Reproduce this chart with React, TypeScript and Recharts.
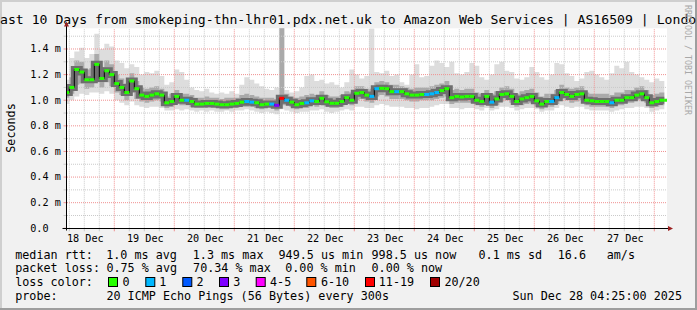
import React from 'react';
import { ComposedChart, Area, Line, Scatter, XAxis, YAxis, ReferenceLine, CartesianGrid } from 'recharts';

// ---- data (2-hour steps, hours counted from 18 Dec 00:00) ----
const STEP_START_HOUR = 4;
const STEP_HOURS = 2;

const medianRtt = [
  1.06, 1.10, 1.24, 1.22, 1.16, 1.16, 1.28, 1.17, 1.23, 1.20,
  1.13, 1.10, 1.06, 1.15, 1.09, 1.04, 1.03, 1.04, 1.05, 1.04,
  0.98, 0.99, 1.03, 1.00, 1.00, 0.99, 0.97, 0.97, 0.975, 0.975,
  0.97, 0.965, 0.965, 0.97, 0.975, 0.985, 0.99, 0.985, 0.98, 0.965,
  0.97, 0.97, 0.96, 1.015, 1.00, 0.985, 0.965, 0.975, 0.98, 0.995,
  0.99, 1.015, 0.988, 0.976, 0.976, 0.99, 1.02, 1.00, 1.054, 1.06,
  1.04, 1.03, 1.09, 1.093, 1.09, 1.067, 1.067, 1.067, 1.05, 1.04,
  1.04, 1.045, 1.045, 1.05, 1.06, 1.075, 1.09, 1.02, 1.03, 1.025,
  1.03, 1.03, 1.00, 0.99, 1.03, 0.985, 1.01, 1.045, 1.05, 1.03,
  0.99, 1.01, 1.02, 1.03, 0.995, 0.97, 0.99, 0.99, 1.02, 1.06,
  1.045, 1.03, 1.045, 1.05, 1.00, 0.995, 0.99, 0.99, 0.99, 0.98,
  1.00, 1.00, 1.02, 1.02, 1.04, 1.05, 1.02, 0.98, 0.99, 1.00,
  1.00,
];

const rttMax = [
  1.16, 1.33, 1.38, 1.41, 1.33, 1.36, 1.52, 1.40, 1.44, 1.42,
  1.31, 1.29, 1.25, 1.28, 1.26, 1.20, 1.22, 1.21, 1.23, 1.19,
  1.12, 1.14, 1.24, 1.22, 1.16, 1.10, 1.08, 1.07, 1.09, 1.06,
  1.05, 1.06, 1.05, 1.07, 1.05, 1.12, 1.18, 1.16, 1.13, 1.11,
  1.09, 1.08, 1.10, 1.70, 1.08, 1.06, 1.07, 1.10, 1.19, 1.20,
  1.15, 1.16, 1.13, 1.14, 1.12, 1.10, 1.14, 1.24, 1.20, 1.17,
  1.19, 1.56, 1.22, 1.21, 1.23, 1.19, 1.20, 1.14, 1.12, 1.20,
  1.28, 1.18, 1.19, 1.27, 1.31, 1.29, 1.26, 1.30, 1.21, 1.20,
  1.22, 1.29, 1.27, 1.18, 1.16, 1.20, 1.28, 1.30, 1.23, 1.22,
  1.17, 1.16, 1.18, 1.26, 1.22, 1.18, 1.16, 1.20, 1.29, 1.28,
  1.21, 1.19, 1.15, 1.17, 1.22, 1.23, 1.20, 1.18, 1.16, 1.21,
  1.27, 1.25, 1.30, 1.22, 1.20, 1.18, 1.16, 1.14, 1.17, 1.15,
  1.12,
];

const rttMin = [
  0.97, 1.00, 1.03, 1.05, 1.04, 1.06, 1.06, 1.05, 1.07, 1.05,
  1.00, 0.98, 0.96, 0.99, 0.96, 0.95, 0.94, 0.95, 0.95, 0.94,
  0.92, 0.92, 0.93, 0.92, 0.93, 0.92, 0.91, 0.92, 0.91, 0.92,
  0.91, 0.91, 0.92, 0.91, 0.92, 0.92, 0.93, 0.92, 0.91, 0.90,
  0.91, 0.90, 0.89, 0.93, 0.92, 0.91, 0.90, 0.91, 0.91, 0.92,
  0.92, 0.93, 0.91, 0.90, 0.91, 0.92, 0.93, 0.92, 0.95, 0.95,
  0.94, 0.94, 0.96, 0.97, 0.96, 0.95, 0.95, 0.95, 0.94, 0.94,
  0.93, 0.94, 0.94, 0.95, 0.96, 0.97, 0.97, 0.94, 0.94, 0.93,
  0.94, 0.94, 0.93, 0.92, 0.94, 0.92, 0.93, 0.95, 0.95, 0.94,
  0.92, 0.93, 0.94, 0.94, 0.93, 0.91, 0.92, 0.92, 0.94, 0.96,
  0.95, 0.94, 0.95, 0.95, 0.93, 0.92, 0.92, 0.92, 0.92, 0.91,
  0.92, 0.93, 0.94, 0.94, 0.95, 0.95, 0.94, 0.91, 0.92, 0.93,
  0.93,
];

const rttHigh = [
  1.12, 1.18, 1.31, 1.30, 1.24, 1.25, 1.36, 1.26, 1.31, 1.28,
  1.20, 1.17, 1.13, 1.21, 1.15, 1.10, 1.09, 1.10, 1.11, 1.09,
  1.03, 1.05, 1.08, 1.05, 1.05, 1.04, 1.02, 1.02, 1.03, 1.02,
  1.02, 1.01, 1.02, 1.02, 1.02, 1.04, 1.05, 1.04, 1.03, 1.02,
  1.02, 1.02, 1.01, 1.70, 1.05, 1.03, 1.02, 1.03, 1.04, 1.05,
  1.04, 1.07, 1.04, 1.03, 1.03, 1.04, 1.07, 1.06, 1.11, 1.11,
  1.09, 1.09, 1.14, 1.15, 1.14, 1.12, 1.12, 1.11, 1.10, 1.09,
  1.10, 1.10, 1.10, 1.11, 1.12, 1.13, 1.15, 1.08, 1.09, 1.08,
  1.09, 1.09, 1.06, 1.05, 1.08, 1.05, 1.07, 1.10, 1.11, 1.09,
  1.05, 1.07, 1.08, 1.09, 1.06, 1.03, 1.05, 1.05, 1.08, 1.12,
  1.10, 1.09, 1.10, 1.11, 1.06, 1.05, 1.05, 1.05, 1.05, 1.04,
  1.06, 1.06, 1.08, 1.08, 1.10, 1.11, 1.08, 1.04, 1.05, 1.06,
  1.06,
];

const rttLow = [
  1.02, 1.05, 1.12, 1.13, 1.09, 1.10, 1.14, 1.10, 1.14, 1.11,
  1.06, 1.04, 1.00, 1.06, 1.01, 0.99, 0.98, 0.99, 1.00, 0.99,
  0.94, 0.95, 0.98, 0.96, 0.96, 0.95, 0.94, 0.94, 0.94, 0.94,
  0.94, 0.93, 0.93, 0.94, 0.94, 0.95, 0.95, 0.95, 0.94, 0.93,
  0.94, 0.94, 0.92, 0.96, 0.96, 0.95, 0.93, 0.94, 0.94, 0.96,
  0.95, 0.97, 0.95, 0.94, 0.94, 0.95, 0.97, 0.96, 1.00, 1.01,
  0.99, 0.98, 1.03, 1.04, 1.03, 1.01, 1.01, 1.01, 1.00, 0.99,
  0.99, 1.00, 1.00, 1.00, 1.01, 1.02, 1.03, 0.97, 0.98, 0.98,
  0.98, 0.98, 0.96, 0.95, 0.98, 0.94, 0.96, 0.99, 1.00, 0.98,
  0.95, 0.96, 0.97, 0.98, 0.95, 0.93, 0.95, 0.95, 0.97, 1.01,
  1.00, 0.98, 0.99, 1.00, 0.96, 0.95, 0.95, 0.95, 0.95, 0.94,
  0.96, 0.96, 0.98, 0.98, 1.00, 1.00, 0.98, 0.94, 0.95, 0.96,
  0.96,
];

// lost pings (of 20) per step
const lostPings = [
  0, 0, 0, 0, 0, 0, 0, 0, 0, 0,
  0, 0, 0, 0, 0, 0, 0, 0, 0, 0,
  0, 0, 0, 0, 1, 0, 0, 0, 0, 0,
  0, 0, 0, 0, 0, 0, 1, 1, 0, 0,
  0, 1, 3, 12, 1, 0, 0, 0, 1, 1,
  0, 0, 0, 0, 0, 0, 0, 0, 0, 0,
  0, 1, 1, 0, 0, 0, 1, 0, 0, 0,
  0, 0, 1, 1, 1, 0, 0, 0, 0, 0,
  0, 0, 0, 0, 0, 1, 0, 0, 0, 0,
  0, 0, 0, 0, 0, 0, 0, 1, 1, 0,
  0, 0, 0, 0, 0, 0, 0, 0, 0, 1,
  0, 0, 0, 0, 0, 0, 0, 0, 0, 0,
  0,
];

// axis definitions
const X_DOMAIN: [number, number] = [5.08, 245.08];
const Y_DOMAIN: [number, number] = [0, 1.5616];
const xGridHours = [6, 12, 18, 24, 30, 36, 42, 48, 54, 60, 66, 72, 78, 84, 90, 96, 102, 108, 114, 120,
  126, 132, 138, 144, 150, 156, 162, 168, 174, 180, 186, 192, 198, 204, 210, 216, 222, 228, 234, 240];
const dayLabelHours = [12, 36, 60, 84, 108, 132, 156, 180, 204, 228];
const dayLabels = ['18 Dec', '19 Dec', '20 Dec', '21 Dec', '22 Dec', '23 Dec', '24 Dec', '25 Dec', '26 Dec', '27 Dec'];
const yGridValues = [0, 0.1, 0.2, 0.3, 0.4, 0.5, 0.6, 0.7, 0.8, 0.9, 1.0, 1.1, 1.2, 1.3, 1.4, 1.5];
const yLabelValues = [0, 0.2, 0.4, 0.6, 0.8, 1.0, 1.2, 1.4];
const yLabels = ['0.0', '0.2 m', '0.4 m', '0.6 m', '0.8 m', '1.0 m', '1.2 m', '1.4 m'];

const lossLegend = ['0', '1', '2', '3', '4-5', '6-10', '11-19', '20/20'];
const lossColors = ['#26ff00', '#00b8ff', '#0059ff', '#7e00ff', '#ff00ff', '#ff5500', '#ff0000', '#a10000'];

const lossColor = (n: number) => {
  if (n <= 0) return lossColors[0];
  if (n === 1) return lossColors[1];
  if (n === 2) return lossColors[2];
  if (n === 3) return lossColors[3];
  if (n <= 5) return lossColors[4];
  if (n <= 10) return lossColors[5];
  if (n <= 19) return lossColors[6];
  return lossColors[7];
};

const data = medianRtt.map((med, i) => ({
  h: STEP_START_HOUR + i * STEP_HOURS,
  med,
  max: rttMax[i],
  min: rttMin[i],
  hi: rttHigh[i],
  lo: rttLow[i],
  loss: lostPings[i],
}));

// ---- layout / style ----
const W = 697;
const H = 310;
const MONO = '"DejaVu Sans Mono", monospace';
const STEP_PX = 5; // 2 hours at 600px / 240h
const MINOR = '#cacaca';
const MAJOR = '#f09090';
const AXIS_Y = 228.3;
const LEG_FS = 11.74;
const AX_FS = 10.17;

const XTick = (props: any) => {
  const { x, payload } = props;
  const v = payload.value as number;
  const major = v % 24 === 0;
  const li = dayLabelHours.indexOf(v);
  return (
    <g>
      <line x1={x} x2={x} y1={AXIS_Y} y2={AXIS_Y + 3} stroke={major ? MAJOR : MINOR} strokeWidth={1} />
      {li >= 0 && (
        <text x={x + 1} y={241.7} textAnchor="middle" fontFamily={MONO} fontSize={AX_FS} fill="#000">
          {dayLabels[li]}
        </text>
      )}
    </g>
  );
};

const YTick = (props: any) => {
  const { y, payload } = props;
  const v = payload.value as number;
  const li = yLabelValues.findIndex((t) => Math.abs(t - v) < 1e-6);
  return (
    <g>
      <line x1={63.5} x2={66.5} y1={y} y2={y} stroke={li >= 0 ? MAJOR : MINOR} strokeWidth={1} />
      {li >= 0 && (
        <text x={30.2} y={y + 3.3} textAnchor="start" fontFamily={MONO} fontSize={AX_FS} fill="#000">
          {yLabels[li]}
        </text>
      )}
    </g>
  );
};

const MedianMark = (props: any) => {
  const { cx, cy, payload } = props;
  if (cx == null || cy == null) return <g />;
  return <rect x={cx} y={cy - 1.5} width={STEP_PX} height={3} fill={lossColor(payload.loss)} />;
};

const legendRows: { y: number; items: [number, string][] }[] = [
  { y: 258.5, items: [[15.2, 'median rtt:'], [106.2, '1.0 ms avg'], [192.8, '1.3 ms max'], [278.5, '949.5 us min'], [371.5, '998.5 us now'], [478.5, '0.1 ms sd'], [557.8, '16.6'], [606.7, 'am/s']] },
  { y: 272.1, items: [[15.2, 'packet loss:'], [106.4, '0.75 % avg'], [193.1, '70.34 % max'], [285.2, '0.00 % min'], [371.5, '0.00 % now']] },
  { y: 285.8, items: [[15.2, 'loss color:']] },
  { y: 299.5, items: [[15.2, 'probe:'], [106.4, '20 ICMP Echo Pings (56 Bytes) every 300s'], [512.4, 'Sun Dec 28 04:25:00 2025']] },
];
const squareX = [108.5, 145.8, 182.8, 219.5, 256.2, 306.8, 365.5, 430.5];
const squareLabelX = [122.5, 159.2, 196.4, 233.2, 270.0, 320.9, 378.8, 444.4];

export default function App() {
  return (
    <div style={{ position: 'fixed', left: 0, top: 0, width: W, height: H, background: '#f1f1f1', overflow: 'hidden' }}>
      <ComposedChart
        width={W}
        height={H}
        data={data}
        margin={{ top: 28.3, right: 30, bottom: 61.7, left: 0 }}
      >
        <CartesianGrid fill="#ffffff" horizontal={false} vertical={false} />
        <XAxis
          dataKey="h"
          type="number"
          domain={X_DOMAIN}
          ticks={xGridHours}
          interval={0}
          allowDataOverflow
          axisLine={false}
          tickLine={false}
          height={20}
          tick={(p: any) => <XTick {...p} />}
        />
        <YAxis
          type="number"
          domain={Y_DOMAIN}
          ticks={yGridValues}
          interval={0}
          allowDataOverflow
          axisLine={false}
          tickLine={false}
          width={67}
          tick={(p: any) => <YTick {...p} />}
        />
        {yGridValues.filter((v) => v > 0).map((v) => {
          const major = yLabelValues.some((t) => Math.abs(t - v) < 1e-6);
          return (
            <ReferenceLine key={'y' + v} y={v} stroke={major ? MAJOR : MINOR} strokeDasharray="1 1" strokeWidth={1} />
          );
        })}
        {xGridHours.map((h) => (
          <ReferenceLine key={'x' + h} x={h} stroke={h % 24 === 0 ? MAJOR : MINOR} strokeDasharray="1 1" strokeWidth={1} />
        ))}
        <Area
          dataKey={(d: any) => [d.min, d.max]}
          type="stepAfter"
          fill="#dddddd"
          fillOpacity={1}
          stroke="none"
          isAnimationActive={false}
          dot={false}
          activeDot={false}
        />
        <Area
          dataKey={(d: any) => [d.lo, d.hi]}
          type="stepAfter"
          fill="#aaaaaa"
          fillOpacity={1}
          stroke="none"
          isAnimationActive={false}
          dot={false}
          activeDot={false}
        />
        <Line dataKey="med" type="stepAfter" stroke="#6e6e6e" strokeWidth={7} dot={false} activeDot={false} isAnimationActive={false} />
        <Line dataKey="med" type="stepAfter" stroke="#000000" strokeWidth={1} dot={false} activeDot={false} isAnimationActive={false} />
        <Scatter dataKey="med" shape={(p: any) => <MedianMark {...p} />} isAnimationActive={false} />
      </ComposedChart>

      <svg width={W} height={H} style={{ position: 'absolute', left: 0, top: 0, pointerEvents: 'none' }}>
        {/* frame */}
        <rect x={0} y={0} width={W} height={2} fill="#cfcfcf" />
        <rect x={0} y={0} width={2} height={H} fill="#cfcfcf" />
        <rect x={0} y={H - 2} width={W} height={2} fill="#9e9e9e" />
        <rect x={W - 2} y={0} width={2} height={H} fill="#9e9e9e" />

        {/* title (wider than the image, clipped at both edges as in the original) */}
        <text x={-7.9} y={24.2} fontFamily={MONO} fontSize={13.15} fill="#000">
          Last 10 Days from smokeping-thn-lhr01.pdx.net.uk to Amazon Web Services | AS16509 | London
        </text>

        {/* watermark */}
        <text x={685} y={5} transform="rotate(90 685 5)" fontFamily={MONO} fontSize={8.3} fill="#a8a8a8">
          RRDTOOL / TOBI OETIKER
        </text>

        {/* y label */}
        <text x={11} y={128} transform="rotate(-90 11 128)" textAnchor="middle" dominantBaseline="central" fontFamily={MONO} fontSize={LEG_FS} fill="#000">
          Seconds
        </text>

        {/* axes */}
        <line x1={66.5} x2={66.5} y1={230.5} y2={25} stroke="#000" strokeWidth={1} />
        <line x1={62.5} x2={669} y1={228.5} y2={228.5} stroke="#000" strokeWidth={1} />
        <polygon points="64,26.5 69,26.5 66.5,21.5" fill="#9b2020" />
        <polygon points="668,226 668,231 673,228.5" fill="#9b2020" />

        {/* legend */}
        {legendRows.map((row, ri) =>
          row.items.map(([x, s], ii) => (
            <text key={ri + '-' + ii} x={x} y={row.y} fontFamily={MONO} fontSize={LEG_FS} fill="#000" style={{ whiteSpace: 'pre' }}>
              {s}
            </text>
          ))
        )}
        {lossLegend.map((lbl, i) => (
          <g key={lbl}>
            <rect x={squareX[i]} y={277.5} width={9} height={9} fill={lossColors[i]} stroke="#000" strokeWidth={1} />
            <text x={squareLabelX[i]} y={285.8} fontFamily={MONO} fontSize={LEG_FS} fill="#000">
              {lbl}
            </text>
          </g>
        ))}
      </svg>
    </div>
  );
}
